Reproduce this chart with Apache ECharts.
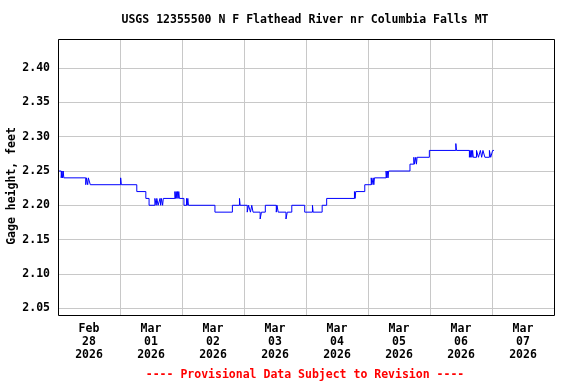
<!DOCTYPE html>
<html><head><meta charset="utf-8">
<script src="https://cdn.jsdelivr.net/npm/echarts@6/dist/echarts.min.js"></script>
<style>html,body{margin:0;padding:0;background:#fff}#c{width:576px;height:384px}</style>
</head><body><div id="c"></div>
<script>
// x in hours since Feb 28 2026 00:00
const dayLabels = ['Feb\n28\n2026','Mar\n01\n2026','Mar\n02\n2026','Mar\n03\n2026','Mar\n04\n2026','Mar\n05\n2026','Mar\n06\n2026','Mar\n07\n2026'];
const dayLabelHours = [12,36,60,84,108,132,156,180];
const yTicks = [2.05,2.10,2.15,2.20,2.25,2.30,2.35,2.40];
// change points of the stepped gage-height record
const stepHours = [0,1.25,1.5,1.75,2.0,2.25,10.75,11.0,11.5,11.75,12.5,24.25,24.5,30.5,34.0,35.25,
  37.5,38.0,38.25,38.75,39.5,39.75,40.0,40.5,40.75,45.25,45.5,45.75,46.0,46.25,46.5,46.75,47.0,
  48.75,49.75,50.0,50.25,50.5,60.75,67.5,70.25,70.5,73.25,73.75,74.5,75.0,75.5,78.25,78.75,80.25,
  84.5,84.75,85.25,88.25,88.75,90.5,90.75,95.5,98.5,98.75,102.25,104.0,114.75,115.0,115.25,118.75,
  121.25,121.5,122.0,122.25,122.5,127.0,127.25,127.5,127.75,128.0,136.25,137.75,138.0,138.5,138.75,139.0,
  143.75,154.0,154.25,159.25,159.5,159.75,160.0,160.25,160.5,160.75,162.0,162.75,163.5,164.0,164.5,
  165.25,167.0,167.5,168.25,168.75];
const stepValues = [2.25,2.24,2.25,2.24,2.25,2.24,2.23,2.24,2.23,2.24,2.23,2.24,2.23,2.22,2.21,2.20,
  2.21,2.20,2.21,2.20,2.21,2.20,2.21,2.20,2.21,2.22,2.21,2.22,2.21,2.22,2.21,2.22,2.21,
  2.20,2.21,2.20,2.21,2.20,2.19,2.20,2.21,2.20,2.19,2.20,2.19,2.20,2.19,2.18,2.19,2.20,
  2.19,2.20,2.19,2.18,2.19,2.20,2.20,2.19,2.20,2.19,2.20,2.21,2.22,2.21,2.22,2.23,
  2.24,2.23,2.24,2.23,2.24,2.25,2.24,2.25,2.24,2.25,2.26,2.27,2.26,2.27,2.26,2.27,
  2.28,2.29,2.28,2.27,2.28,2.27,2.28,2.27,2.28,2.27,2.28,2.27,2.28,2.27,2.28,
  2.27,2.28,2.27,2.28,2.28];

const FONT = 'DejaVu Sans Mono';
const data = stepHours.map((h, i) => [h, stepValues[i]]);
const chart = echarts.init(document.getElementById('c'), null, {renderer: 'canvas'});
chart.setOption({
  animation: false,
  backgroundColor: '#fff',
  grid: {left: 58, right: 22, top: 39, bottom: 69, show: false},
  xAxis: {
    type: 'value', min: 0, max: 192, interval: 24,
    axisLine: {show: false}, axisTick: {show: false},
    splitLine: {show: true, lineStyle: {color: '#c8c8c8', width: 1}},
    axisLabel: {
      customValues: dayLabelHours, margin: 8,
      fontFamily: FONT, fontWeight: 'bold', fontSize: 11.5, lineHeight: 13, color: '#000',
      formatter: v => dayLabels[dayLabelHours.indexOf(Math.round(v))] || ''
    }
  },
  yAxis: {
    type: 'value', min: 2.04, max: 2.4425,
    axisLine: {show: false},
    axisTick: {show: false, customValues: yTicks},
    splitLine: {show: true, lineStyle: {color: '#c8c8c8', width: 1}},
    axisLabel: {
      customValues: yTicks, margin: 8,
      fontFamily: FONT, fontWeight: 'bold', fontSize: 11.5, color: '#000',
      formatter: v => v.toFixed(2)
    }
  },
  graphic: [
    {type: 'rect', z: 100, silent: true, shape: {x: 58.5, y: 39.5, width: 496, height: 276}, style: {fill: 'none', stroke: '#000', lineWidth: 1}},
    {type: 'text', x: 305, y: 20, style: {text: 'USGS 12355500 N F Flathead River nr Columbia Falls MT', fontFamily: FONT, fontWeight: 'bold', fontSize: 11.5, fill: '#000', align: 'center', verticalAlign: 'middle'}},
    {type: 'text', x: 12, y: 186, rotation: Math.PI / 2, style: {text: 'Gage height, feet', fontFamily: FONT, fontWeight: 'bold', fontSize: 11.5, fill: '#000', align: 'center', verticalAlign: 'middle'}},
    {type: 'text', x: 305, y: 375, style: {text: '---- Provisional Data Subject to Revision ----', fontFamily: FONT, fontWeight: 'bold', fontSize: 11.5, fill: '#ff0000', align: 'center', verticalAlign: 'middle'}}
  ],
  series: [{
    type: 'line', step: 'end', data: data, showSymbol: false, symbol: 'none',
    lineStyle: {color: '#0000ff', width: 1}, silent: true
  }]
});
</script></body></html>
